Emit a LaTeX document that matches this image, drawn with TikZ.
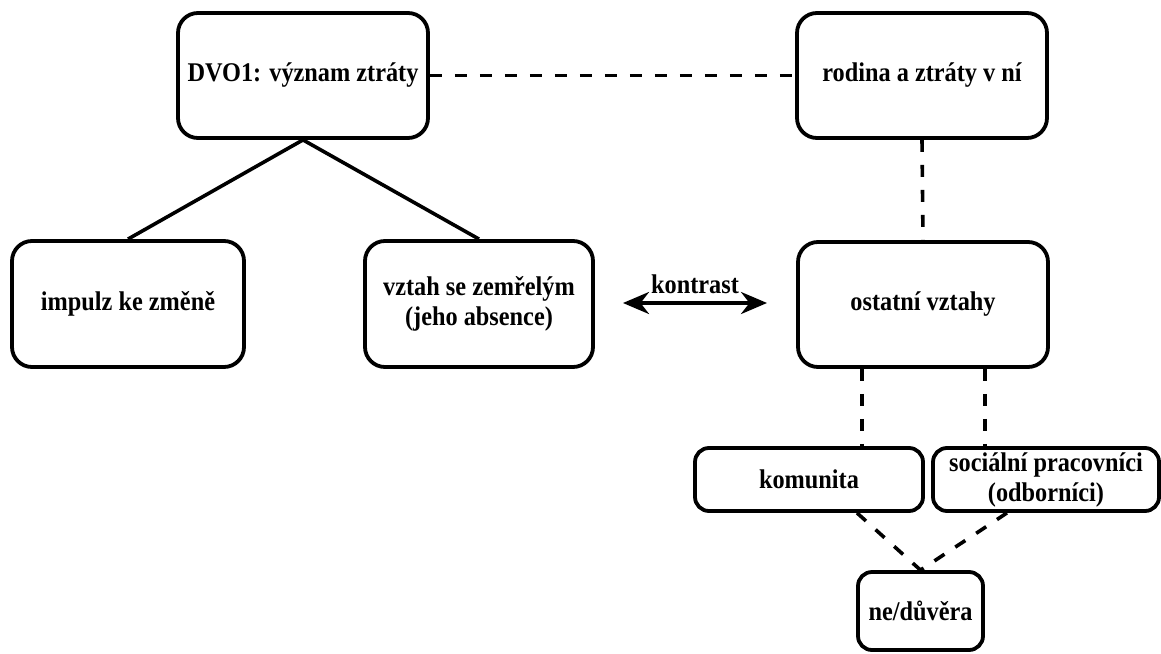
\documentclass[tikz,border=0pt]{standalone}
\usepackage{fontspec}
\setmainfont{Liberation Serif}
\newfontfamily\tallserif{Liberation Serif}[FakeStretch=0.9]
\usetikzlibrary{arrows.meta}
\tikzset{
  box/.style={draw, line width=3.8pt, rounded corners=20pt, align=center, inner sep=0pt,
    font=\tallserif\fontsize{27}{30}\selectfont\bfseries},
  sbox/.style={box, rounded corners=14pt},
  solidline/.style={line width=3.6pt},
  dashline/.style={line width=3.6pt, dash pattern=on 12pt off 13pt},
  lbl/.style={inner sep=0pt, font=\tallserif\fontsize{27}{30}\selectfont\bfseries}
}
\begin{document}
\begin{tikzpicture}[x=1pt,y=-1pt]
\useasboundingbox[fill=white] (0,0) rectangle (1161,653);

\node[box, minimum width=250pt, minimum height=125pt] (dvo) at (303,75.5) {DVO1: význam ztráty};
\node[box, minimum width=250pt, minimum height=125pt] (rod) at (922,75.5) {rodina a ztráty v ní};
\node[box, minimum width=232pt, minimum height=126pt] (imp) at (128,304) {impulz ke změně};
\node[box, minimum width=228pt, minimum height=126pt] (vzt) at (479,304) {vztah se zemřelým\\(jeho absence)};
\node[box, minimum width=250pt, minimum height=125pt] (ost) at (923,304.5) {ostatní vztahy};
\node[sbox, minimum width=228pt, minimum height=63pt] (kom) at (809,479.5) {komunita};
\node[sbox, minimum width=226pt, minimum height=63pt] (soc) at (1046,479.5) {sociální pracovníci\\(odborníci)};
\node[sbox, minimum width=125pt, minimum height=78pt] (ne) at (920.5,611) {ne/důvěra};

\draw[dashline] (dvo.east) -- (rod.west);
\draw[solidline] (dvo.south) -- (imp.north);
\draw[solidline] (dvo.south) -- (vzt.north);
\draw[dashline] (rod.south) -- (ost.north);
\draw[dashline] ([xshift=-61pt]ost.south) -- ([xshift=-61pt]ost.south |- kom.north);
\draw[dashline] ([xshift=62pt]ost.south) -- ([xshift=62pt]ost.south |- soc.north);
\draw[dashline] ([xshift=48pt]kom.south) -- (ne.north);
\draw[dashline] ([xshift=-39pt]soc.south) -- (ne.north);

\coordinate (aL) at (623,303);
\coordinate (aR) at (767,303);
\draw[line width=3.8pt, {Stealth[length=26pt,width=22pt]}-{Stealth[length=26pt,width=22pt]}] (aL) -- (aR)
  node[lbl, midway, above=7pt] (kon) {kontrast};
\end{tikzpicture}
\end{document}
